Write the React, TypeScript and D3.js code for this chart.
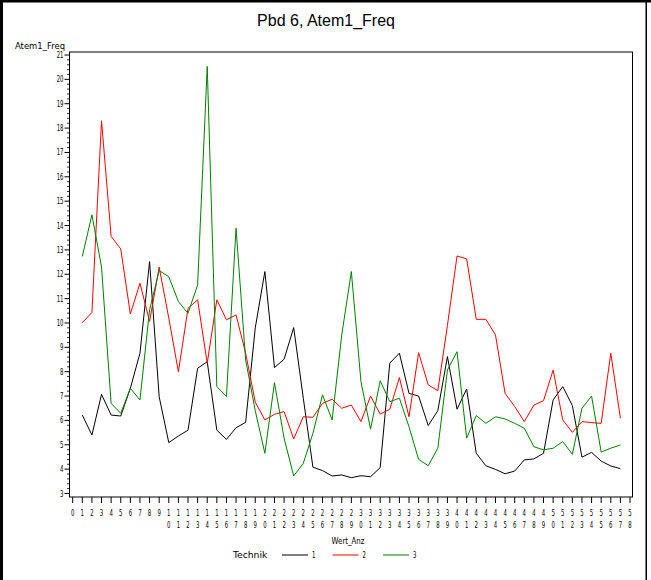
import React from 'react';
import * as d3 from 'd3';

const title = 'Pbd  6, Atem1_Freq';
const yTitle = 'Atem1_Freq';
const xTitle = 'Wert_Anz';
const legendTitle = 'Technik';
const seriesNames = ['1', '2', '3'];
const seriesColors = ['#000000', '#ff0000', '#008000'];

const xTicks = d3.range(0, 59);
const yTicks = d3.range(3, 22);
const wertAnz = d3.range(1, 58);

const technik1 = [
  6.22, 5.4, 7.07, 6.22, 6.18, 7.32, 8.76, 12.52, 6.97, 5.09,
  5.36, 5.6, 8.14, 8.41, 5.6, 5.22, 5.7, 5.92, 9.8, 12.11,
  8.17, 8.51, 9.81, 6.91, 4.08, 3.94, 3.72, 3.76, 3.65, 3.73,
  3.69, 4.06, 8.35, 8.76, 7.11, 7.0, 5.79, 6.4, 8.62, 6.46,
  7.29, 4.65, 4.14, 3.99, 3.81, 3.92, 4.38, 4.42, 4.65, 6.84,
  7.39, 6.61, 4.49, 4.69, 4.33, 4.13, 4.02,
];
const technik2 = [
  10.01, 10.43, 18.3, 13.55, 13.04, 10.37, 11.63, 10.06, 12.29, 10.2,
  8.0, 10.6, 10.95, 8.35, 10.95, 10.13, 10.33, 8.76, 6.75, 6.02,
  6.25, 6.36, 5.24, 6.15, 6.13, 6.7, 6.87, 6.5, 6.63, 5.95,
  7.0, 6.26, 6.46, 7.76, 6.15, 8.78, 7.46, 7.22, 9.9, 12.75,
  12.63, 10.15, 10.15, 9.51, 7.11, 6.57, 5.95, 6.63, 6.81, 8.07,
  6.02, 5.51, 5.95, 5.91, 5.88, 8.76, 6.09,
];
const technik3 = [
  12.73, 14.44, 12.3, 6.7, 6.29, 7.32, 6.84, 10.54, 12.15, 11.9,
  10.88, 10.4, 11.56, 20.53, 7.39, 6.98, 13.89, 8.48, 6.4, 4.65,
  7.55, 5.27, 3.72, 4.24, 5.47, 7.05, 6.02, 9.51, 12.11, 7.59,
  5.64, 7.63, 6.77, 6.91, 5.74, 4.4, 4.14, 4.86, 8.07, 8.82,
  5.27, 6.2, 5.88, 6.15, 6.06, 5.88, 5.68, 4.92, 4.79, 4.86,
  5.13, 4.61, 6.5, 7.0, 4.7, 4.86, 4.99,
];
const allSeries = [technik1, technik2, technik3];

const W = 651;
const H = 580;
const frame = { left: 69.5, right: 632.5, top: 52, bottom: 497 };

const smallFont = '"DejaVu Sans", sans-serif';

function Small({ x, y, text, perChar, anchor = 'start', size = 8.5 }: any) {
  const len = perChar * String(text).length;
  let x0 = x;
  if (anchor === 'end') x0 = x - len;
  if (anchor === 'middle') x0 = x - len / 2;
  return (
    <text
      x={x0}
      y={y}
      fontFamily={smallFont}
      fontSize={size}
      textLength={len}
      lengthAdjust="spacingAndGlyphs"
      fill="#000"
    >
      {text}
    </text>
  );
}

export default function App() {
  const x = d3.scaleLinear().domain([0, 58]).range([72.7, 630]);
  const y = d3.scaleLinear().domain([3, 21]).range([493.5, 55]);

  const line = d3
    .line<number>()
    .x((_, i) => x(wertAnz[i]))
    .y((d) => y(d));

  const minorTicks: number[] = [];
  for (let t = 3; t < 21; t++) {
    for (let k = 1; k < 5; k++) minorTicks.push(t + k * 0.2);
  }

  return (
    <svg
      width={W}
      height={H}
      style={{ position: 'absolute', left: 0, top: 0, background: '#fff' }}
    >
      <rect x={0} y={0} width={W} height={H} fill="#fff" />
      {/* outer border */}
      <rect x={0} y={0} width={W} height={2.5} fill="#000" />
      <rect x={0} y={0} width={3} height={H} fill="#000" />
      <rect x={645.5} y={0} width={1.5} height={H} fill="#000" />

      {/* title */}
      <text
        x={326}
        y={26}
        textAnchor="middle"
        fontFamily='"Liberation Sans", Arial, sans-serif'
        fontSize={16}
        fill="#000"
      >
        {title}
      </text>

      {/* frame */}
      <rect
        x={frame.left}
        y={frame.top}
        width={frame.right - frame.left}
        height={frame.bottom - frame.top}
        fill="none"
        stroke="#000"
        strokeWidth={1}
      />

      {/* y axis ticks */}
      {yTicks.map((t) => (
        <g key={'y' + t}>
          <line x1={64.5} x2={frame.left} y1={y(t)} y2={y(t)} stroke="#000" strokeWidth={1} />
          <Small x={63.5} y={y(t) + 3} text={String(t)} perChar={3.4} anchor="end" />
        </g>
      ))}
      {minorTicks.map((t, i) => (
        <line key={'m' + i} x1={67} x2={frame.left} y1={y(t)} y2={y(t)} stroke="#000" strokeWidth={0.8} />
      ))}
      <Small x={15} y={49} text={yTitle} perChar={5} />

      {/* x axis ticks */}
      {xTicks.map((t) => {
        const s = String(t);
        return (
          <g key={'x' + t}>
            <line x1={x(t)} x2={x(t)} y1={frame.bottom} y2={frame.bottom + 6} stroke="#000" strokeWidth={1} />
            {s.length === 1 ? (
              <Small x={x(t)} y={516} text={s} perChar={3.4} anchor="middle" />
            ) : (
              <>
                <Small x={x(t)} y={516} text={s[0]} perChar={3.4} anchor="middle" />
                <Small x={x(t)} y={528} text={s[1]} perChar={3.4} anchor="middle" />
              </>
            )}
          </g>
        );
      })}
      <Small x={348} y={544} text={xTitle} perChar={4.1} anchor="middle" />

      {/* series */}
      {allSeries.map((s, i) => (
        <path key={'s' + i} d={line(s) || ''} fill="none" stroke={seriesColors[i]} strokeWidth={1} />
      ))}

      {/* legend */}
      <Small x={233} y={558} text={legendTitle} perChar={4.9} />
      {seriesNames.map((n, i) => (
        <g key={'l' + i}>
          <line x1={282 + i * 50.5} x2={308 + i * 50.5} y1={555} y2={555} stroke={seriesColors[i]} strokeWidth={1} />
          <Small x={312 + i * 50.5} y={558} text={n} perChar={3.4} />
        </g>
      ))}
    </svg>
  );
}
